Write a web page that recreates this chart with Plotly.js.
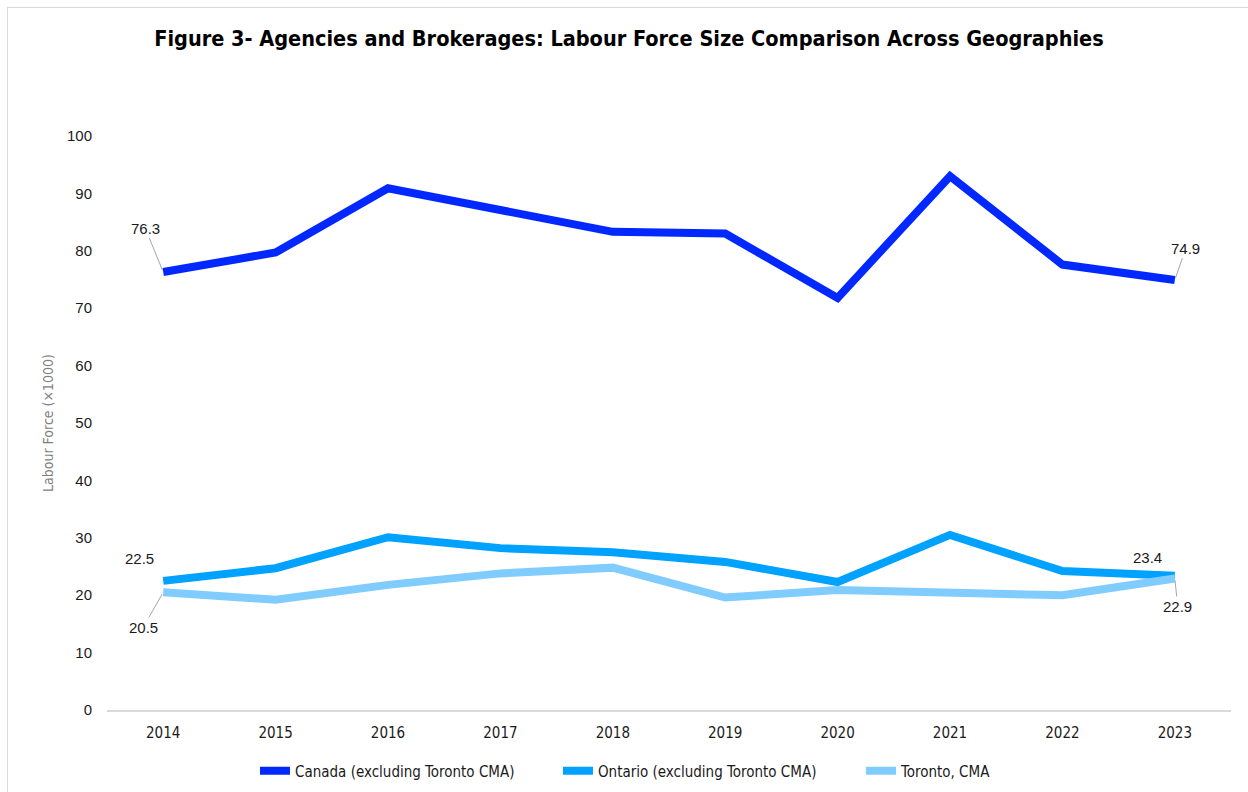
<!DOCTYPE html>
<html>
<head>
<meta charset="utf-8">
<script src="https://cdn.plot.ly/plotly-3.0.1.min.js"></script>
<style>
html,body{margin:0;padding:0;background:#fff;}
#chart{width:1248px;height:792px;position:absolute;left:0;top:0;}
#frame{position:absolute;left:7px;top:7px;width:1260px;height:800px;border:1px solid #d9d9d9;pointer-events:none;}
</style>
</head>
<body>
<div id="chart"></div>
<div id="frame"></div>
<script>
var years = ['2014','2015','2016','2017','2018','2019','2020','2021','2022','2023'];
var canada = [76.3, 79.7, 90.9, 87.2, 83.3, 83.0, 71.8, 93.0, 77.6, 74.9];
var ontario = [22.5, 24.7, 30.1, 28.2, 27.5, 25.8, 22.3, 30.5, 24.2, 23.4];
var toronto = [20.5, 19.2, 21.8, 23.8, 24.8, 19.6, 20.9, 20.6, 20.0, 22.9];
var seriesNames = ['Canada (excluding Toronto CMA)', 'Ontario (excluding Toronto CMA)', 'Toronto, CMA'];
var yTicks = [0,10,20,30,40,50,60,70,80,90,100];

var narrow = '"DejaVu Sans Condensed", "DejaVu Sans", sans-serif';
var colors = ['#0028ff', '#00a2ff', '#80ccff'];
var allSeries = [canada, ontario, toronto];

var traces = allSeries.map(function(s, i){
  return {
    x: years, y: s, type: 'scatter', mode: 'lines', name: seriesNames[i],
    line: {color: colors[i], width: 8}
  };
});

var last = years.length - 1;
function lab(idx, yv, ax, ay, arrow) {
  return {
    x: idx, y: yv, xref: 'x', yref: 'y',
    text: yv.toFixed(1),
    showarrow: true, arrowhead: 0, arrowwidth: 1,
    arrowcolor: arrow ? '#a6a6a6' : 'rgba(255,255,255,0)',
    ax: ax, ay: ay, standoff: 2,
    font: {family: 'Liberation Sans, Arial, sans-serif', size: 15, color: '#1a1a1a'}
  };
}
var annotations = [
  lab(0, canada[0], -18, -44, true),
  lab(last, canada[last], 11, -32, true),
  lab(0, ontario[0], -24, -22, false),
  lab(0, toronto[0], -20, 35, true),
  lab(last, ontario[last], -27, -18, false),
  lab(last, toronto[last], 3, 28, true)
];

var layout = {
  width: 1248, height: 792,
  paper_bgcolor: '#ffffff', plot_bgcolor: '#ffffff',
  margin: {l: 107, r: 17, t: 136, b: 82, pad: 0, autoexpand: false},
  title: {
    text: 'Figure 3- Agencies and Brokerages: Labour Force Size Comparison Across Geographies',
    font: {family: narrow, size: 21.5, color: '#000000', weight: 'bold'},
    x: 0.504, xanchor: 'center', y: 0.951, yanchor: 'middle'
  },
  xaxis: {
    type: 'category', range: [-0.5, 9.5],
    showgrid: false, zeroline: false,
    showline: true, linecolor: '#d9d9d9', linewidth: 2,
    ticks: '', tickfont: {family: narrow, size: 15, color: '#1a1a1a'},
    ticklabelstandoff: 8, automargin: false
  },
  yaxis: {
    range: [0, 100], tickvals: yTicks, ticktext: yTicks.map(String),
    showgrid: false, zeroline: false, showline: false,
    ticks: '', tickfont: {family: 'Liberation Sans, Arial, sans-serif', size: 15, color: '#1a1a1a'},
    ticklabelstandoff: 14, automargin: false,
    title: {text: 'Labour Force (×1000)', font: {family: narrow, size: 14, color: '#7f7f7f'}, standoff: 10}
  },
  showlegend: true,
  legend: {
    orientation: 'h', xref: 'container', yref: 'container',
    x: 0.5685, xanchor: 'center', y: 0.0265, yanchor: 'middle',
    font: {family: narrow, size: 15, color: '#1a1a1a'},
    entrywidth: 258, entrywidthmode: 'pixels'
  },
  annotations: annotations
};

Plotly.newPlot('chart', traces, layout, {displayModeBar: false});
</script>
</body>
</html>
